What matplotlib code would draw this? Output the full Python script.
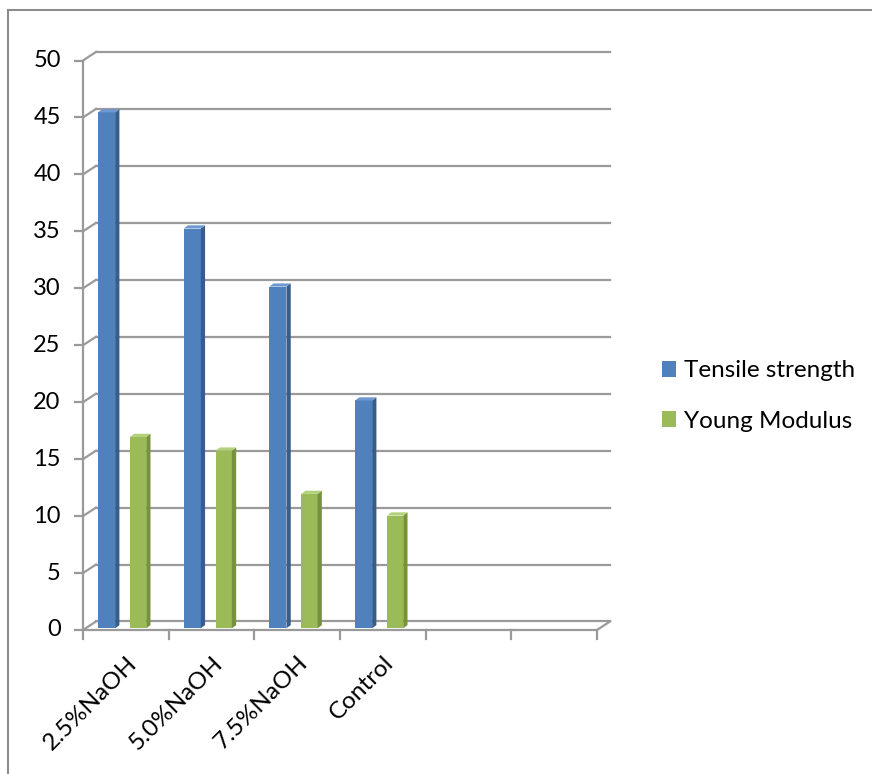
import matplotlib.pyplot as plt
from matplotlib.patches import Polygon, Patch
from matplotlib.lines import Line2D

categories = ['2.5%NaOH', '5.0%NaOH', '7.5%NaOH', 'Control', '', '']
tensile = [45.3, 35.1, 30.0, 20.0]
young = [16.8, 15.6, 11.8, 9.9]
y_ticks = list(range(0, 55, 5))

blue, blue_side, blue_top = '#4F81BD', '#385D8A', '#6E98CF'
green, green_side, green_top = '#9BBB59', '#76923C', '#B3D17A'
grid_c = '#9A9A9A'

plt.rcParams['font.family'] = ['Lato', 'DejaVu Sans']

fig = plt.figure(figsize=(8.72, 7.74), dpi=100)
W, H = 872, 774
# front axis: x 83..597 px, y 630 (0) .. 60.5 (50) px
ax = fig.add_axes([83 / W, (H - 630) / H, 514 / W, 569.5 / H])
ax.set_xlim(0, 6)
ax.set_ylim(0, 50)
ax.axis('off')

n = len(categories)
dx, dy = 0.152, 0.75   # depth offset of the back wall
lw = 1.6

# back wall gridlines and slanted connectors
for v in y_ticks:
    ax.plot([dx, n + dx], [v + dy, v + dy], color=grid_c, lw=lw, clip_on=False, zorder=1)
    ax.plot([0, dx], [v, v + dy], color=grid_c, lw=lw, clip_on=False, zorder=1)
    ax.plot([-0.09, 0], [v, v], color=grid_c, lw=lw, clip_on=False, zorder=1)
    ax.text(-0.26, v, str(v), ha='right', va='center', fontsize=17, clip_on=False)

# front axis and floor
ax.plot([0, 0], [0, 50], color=grid_c, lw=lw, clip_on=False, zorder=1)
ax.plot([0, n], [0, 0], color=grid_c, lw=lw, clip_on=False, zorder=1)
ax.plot([n, n + dx], [0, dy], color=grid_c, lw=lw, clip_on=False, zorder=1)
for i in range(n + 1):
    ax.plot([i, i], [0, -0.8], color=grid_c, lw=lw, clip_on=False, zorder=1)

# category labels
for i, lab in enumerate(categories):
    if lab:
        ax.text(i + 0.59, -2.6, lab, rotation=45, rotation_mode='anchor',
                ha='right', va='center', fontsize=17.5, clip_on=False)


def bar3d(x, w, h, face, side, top):
    base = 0.15
    sd, td = 0.05, 0.28
    ax.bar(x, h, width=w, bottom=base, align='edge', color=face, zorder=3)
    ax.add_patch(Polygon([(x + w, base), (x + w + sd, base + td),
                          (x + w + sd, base + h + td), (x + w, base + h)],
                         closed=True, facecolor=side, edgecolor='none', zorder=3))
    ax.add_patch(Polygon([(x, base + h), (x + w, base + h),
                          (x + w + sd, base + h + td), (x + sd, base + h + td)],
                         closed=True, facecolor=top, edgecolor='none', zorder=3))


for i, (t, y) in enumerate(zip(tensile, young)):
    bar3d(i + 0.175, 0.2, t, blue, blue_side, blue_top)
    bar3d(i + 0.548, 0.19, y, green, green_side, green_top)

handles = [Patch(facecolor=blue), Patch(facecolor=green)]
fig.legend(handles, ['Tensile strength', 'Young Modulus'], loc='center left',
           bbox_to_anchor=(652 / W, 1 - 396 / H), frameon=False, fontsize=17.5,
           handlelength=0.6, handleheight=0.6, handletextpad=0.3, labelspacing=1.2,
           borderaxespad=0.0)

# chart border
fig.add_artist(Line2D([8 / W, 1], [1 - 10 / H, 1 - 10 / H], color='#8C8C8C', lw=1.5))
fig.add_artist(Line2D([8 / W, 8 / W], [0, 1 - 10 / H], color='#8C8C8C', lw=1.5))

plt.savefig('out.png', dpi=100)
